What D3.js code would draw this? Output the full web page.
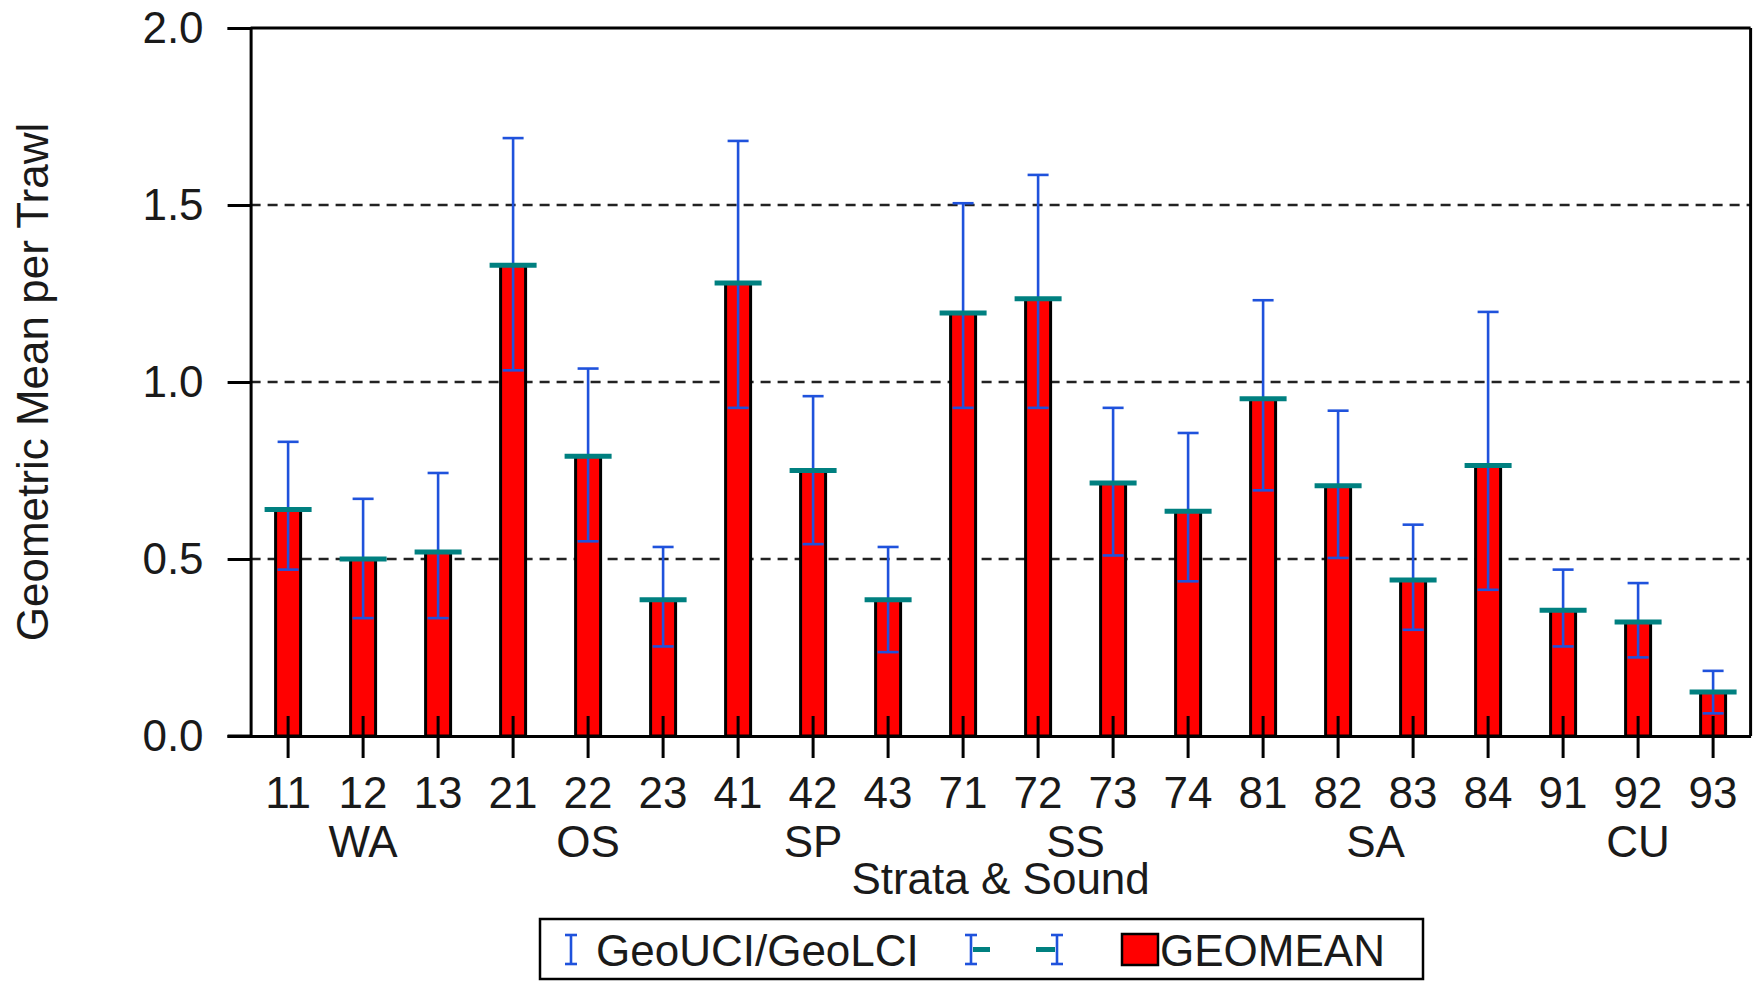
<!DOCTYPE html>
<html><head><meta charset="utf-8">
<script src="https://cdn.jsdelivr.net/npm/d3@7/dist/d3.min.js"></script>
<style>
body{margin:0;background:#fff}
text{font-family:"Liberation Sans",Arial,sans-serif;fill:#1a1a1a}
</style>
</head><body>
<svg id="c" width="1754" height="981"></svg>
<script>
const categories = ["11","12","13","21","22","23","41","42","43","71","72","73","74","81","82","83","84","91","92","93"];
const groups = ["WA","WA","WA","OS","OS","OS","SP","SP","SP","SS","SS","SS","SS","SA","SA","SA","SA","CU","CU","CU"];
const geomean = [0.64,0.50,0.52,1.33,0.79,0.385,1.28,0.75,0.385,1.195,1.235,0.715,0.635,0.953,0.707,0.441,0.764,0.355,0.322,0.124];
const geoUCI  = [0.831,0.670,0.743,1.689,1.038,0.534,1.681,0.960,0.534,1.505,1.585,0.927,0.856,1.231,0.919,0.597,1.198,0.470,0.432,0.184];
const geoLCI  = [0.470,0.333,0.333,1.033,0.550,0.253,0.927,0.542,0.237,0.927,0.927,0.510,0.437,0.694,0.503,0.300,0.413,0.253,0.222,0.064];
const yTicks = [0.0,0.5,1.0,1.5,2.0];
const gridValues = [0.5,1.0,1.5];
const yTitle = "Geometric Mean per Trawl";
const xTitle = "Strata & Sound";
const legendLabels = ["GeoUCI/GeoLCI","GEOMEAN"];

const RED="#ff0000", BLUE="#1f52dc", TEAL="#008080", INK="#1a1a1a";
const L=250.6, R=1750.6, T=28, B=736;
const FS=44;

const svg=d3.select("#c");
svg.append("rect").attr("width",1754).attr("height",981).attr("fill","#fff");

const x=d3.scaleBand().domain(categories).range([L,R]).padding(0);
const y=d3.scaleLinear().domain([0,2]).range([B,T]);
const cx=c=>x(c)+x.bandwidth()/2;
const barW=x.bandwidth()/3;

const data=categories.map((c,i)=>({c,g:groups[i],m:geomean[i],u:geoUCI[i],l:geoLCI[i]}));

// grid
svg.append("g").selectAll("line").data(gridValues).join("line")
  .attr("x1",L).attr("x2",R).attr("y1",d=>y(d)).attr("y2",d=>y(d))
  .attr("stroke","#222").attr("stroke-width",2.6).attr("stroke-dasharray","10,7");

// bars
svg.append("g").selectAll("rect").data(data).join("rect")
  .attr("x",d=>cx(d.c)-barW/2).attr("width",barW)
  .attr("y",d=>y(d.m)).attr("height",d=>B-y(d.m))
  .attr("fill",RED).attr("stroke","#000").attr("stroke-width",3);

// error bars
const eb=svg.append("g");
eb.selectAll("line.v").data(data).join("line").attr("class","v")
  .attr("x1",d=>cx(d.c)).attr("x2",d=>cx(d.c)).attr("y1",d=>y(d.l)).attr("y2",d=>y(d.u))
  .attr("stroke",BLUE).attr("stroke-width",2.6);
["u","l"].forEach(k=>{
  eb.selectAll("line.c"+k).data(data).join("line").attr("class","c"+k)
    .attr("x1",d=>cx(d.c)-10.5).attr("x2",d=>cx(d.c)+10.5)
    .attr("y1",d=>y(d[k])).attr("y2",d=>y(d[k]))
    .attr("stroke",BLUE).attr("stroke-width",2.6);
});
eb.selectAll("line.m").data(data).join("line").attr("class","m")
  .attr("x1",d=>cx(d.c)-23.5).attr("x2",d=>cx(d.c)+23.5)
  .attr("y1",d=>y(d.m)).attr("y2",d=>y(d.m))
  .attr("stroke",TEAL).attr("stroke-width",5);

// frame
svg.append("line").attr("x1",L).attr("x2",R).attr("y1",T).attr("y2",T).attr("stroke","#000").attr("stroke-width",3);
svg.append("line").attr("x1",R).attr("x2",R).attr("y1",T).attr("y2",B).attr("stroke","#000").attr("stroke-width",3);

// y axis
const ya=svg.append("g").attr("transform",`translate(${L},0)`)
  .call(d3.axisLeft(y).tickValues(yTicks).tickFormat(d3.format(".1f")).tickSize(23).tickPadding(24));
ya.select(".domain").attr("stroke","#000").attr("stroke-width",3);
ya.selectAll(".tick line").attr("stroke","#000").attr("stroke-width",3);
ya.selectAll(".tick text").attr("font-size",FS).attr("font-family","Liberation Sans, Arial, sans-serif").attr("fill",INK);

// x axis
const xa=svg.append("g").attr("transform",`translate(0,${B})`)
  .call(d3.axisBottom(x).tickSize(22).tickSizeOuter(0).tickPadding(0).tickFormat(()=>""));
xa.select(".domain").attr("stroke","#000").attr("stroke-width",3);
xa.selectAll(".tick line").attr("y1",-20).attr("stroke","#000").attr("stroke-width",3);
xa.selectAll(".tick text").remove();
svg.append("line").attr("x1",L-23).attr("x2",L).attr("y1",B).attr("y2",B).attr("stroke","#000").attr("stroke-width",3);

svg.append("g").selectAll("text").data(categories).join("text")
  .attr("x",d=>cx(d)).attr("y",808).attr("text-anchor","middle").attr("font-size",FS).text(d=>d);

// group labels
const gnames=[...new Set(groups)];
svg.append("g").selectAll("text").data(gnames).join("text")
  .attr("x",g=>d3.mean(data.filter(d=>d.g===g),d=>cx(d.c)))
  .attr("y",857).attr("text-anchor","middle").attr("font-size",FS).text(g=>g);

svg.append("text").attr("x",(L+R)/2).attr("y",894).attr("text-anchor","middle").attr("font-size",FS).text(xTitle);
svg.append("text").attr("transform","translate(48,382) rotate(-90)").attr("text-anchor","middle").attr("font-size",FS).text(yTitle);

// legend
const lg=svg.append("g");
lg.append("rect").attr("x",540).attr("y",919).attr("width",883).attr("height",60)
  .attr("fill","#fff").attr("stroke","#000").attr("stroke-width",2.5);
function ibeam(xc){
  lg.append("line").attr("x1",xc).attr("x2",xc).attr("y1",935).attr("y2",964).attr("stroke",BLUE).attr("stroke-width",2.6);
  lg.append("line").attr("x1",xc-6).attr("x2",xc+6).attr("y1",935).attr("y2",935).attr("stroke",BLUE).attr("stroke-width",2.6);
  lg.append("line").attr("x1",xc-6).attr("x2",xc+6).attr("y1",964).attr("y2",964).attr("stroke",BLUE).attr("stroke-width",2.6);
}
ibeam(571);
lg.append("text").attr("x",596).attr("y",966).attr("font-size",FS).text(legendLabels[0]);
ibeam(971);
lg.append("line").attr("x1",973).attr("x2",990).attr("y1",949.5).attr("y2",949.5).attr("stroke",TEAL).attr("stroke-width",5);
ibeam(1057);
lg.append("line").attr("x1",1036).attr("x2",1055).attr("y1",949.5).attr("y2",949.5).attr("stroke",TEAL).attr("stroke-width",5);
lg.append("rect").attr("x",1122).attr("y",934).attr("width",36).attr("height",31).attr("fill",RED).attr("stroke","#000").attr("stroke-width",2.5);
lg.append("text").attr("x",1160).attr("y",966).attr("font-size",FS).text(legendLabels[1]);
</script>
</body></html>
